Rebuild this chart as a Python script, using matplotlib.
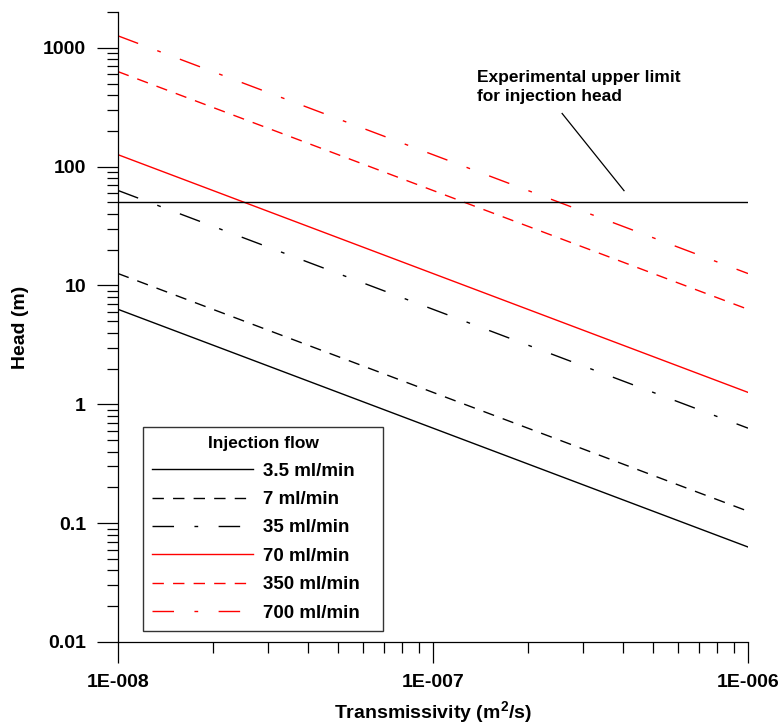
import matplotlib
matplotlib.use("Agg")
import matplotlib.pyplot as plt
from matplotlib.ticker import FixedLocator, LogLocator, FixedFormatter, NullFormatter

plt.rcParams['font.family'] = ['Liberation Sans', 'DejaVu Sans']
plt.rcParams['font.weight'] = 'bold'
plt.rcParams['mathtext.fontset'] = 'custom'
plt.rcParams['mathtext.rm'] = 'Liberation Sans:bold'
plt.rcParams['mathtext.bf'] = 'Liberation Sans:bold'
plt.rcParams['lines.scale_dashes'] = False

# transmissivity range (m2/s)
transmissivity = [1e-8, 1e-6]

# injection flows and head at each end of the transmissivity range
flow_labels = ['3.5 ml/min', '7 ml/min', '35 ml/min', '70 ml/min', '350 ml/min', '700 ml/min']
head_low_T = [6.3, 12.6, 63, 126, 630, 1260]
head_high_T = [0.063, 0.126, 0.63, 1.26, 6.3, 12.6]
colors = ['black', 'black', 'black', 'red', 'red', 'red']
styles = ['solid', 'dashed', 'dashdot', 'solid', 'dashed', 'dashdot']

head_limit = 50

x_ticks = [1e-8, 1e-7, 1e-6]
x_ticklabels = ['1E-008', '1E-007', '1E-006']
y_ticks = [0.01, 0.1, 1, 10, 100, 1000]
y_ticklabels = ['0.01', '0.1', '1', '10', '100', '1000']

dash_map = {'solid': '-', 'dashed': (0, (8.2, 6.6)), 'dashdot': (0, (15.5, 14.7, 2.7, 14.7))}

fig = plt.figure(figsize=(7.82, 7.25), dpi=100)
ax = fig.add_axes([118/782, 1 - 642/725, 630/782, 630/725])

for lab, h0, h1, c, s in zip(flow_labels, head_low_T, head_high_T, colors, styles):
    ax.plot(transmissivity, [h0, h1], color=c, linestyle=dash_map[s], lw=1.0, label=lab)

ax.plot(transmissivity, [head_limit, head_limit], color='black', lw=1.0)

# leader line + note for the limit
ax.plot([2.57e-7, 4.04e-7], [280, 62.8], color='black', lw=0.9)
ax.text(1.38e-7, 650, 'Experimental upper limit\nfor injection head', fontsize=12.5,
        fontweight='bold', va='top', ha='left', linespacing=1.37)

ax.set_xscale('log')
ax.set_yscale('log')
ax.set_xlim(1e-8, 1e-6)
ax.set_ylim(0.01, 2000)

ax.xaxis.set_major_locator(FixedLocator(x_ticks))
ax.xaxis.set_major_formatter(FixedFormatter(x_ticklabels))
ax.yaxis.set_major_locator(FixedLocator(y_ticks))
ax.yaxis.set_major_formatter(FixedFormatter(y_ticklabels))
ax.xaxis.set_minor_locator(LogLocator(base=10, subs=range(2, 10)))
ax.yaxis.set_minor_locator(LogLocator(base=10, subs=range(2, 10)))
ax.xaxis.set_minor_formatter(NullFormatter())
ax.yaxis.set_minor_formatter(NullFormatter())

ax.tick_params(which='major', direction='out', length=15, width=0.9, labelsize=14, pad=8)
ax.tick_params(which='minor', direction='out', length=8, width=0.9)
for lbl in ax.get_xticklabels() + ax.get_yticklabels():
    lbl.set_fontweight('bold')

ax.spines['top'].set_visible(False)
ax.spines['right'].set_visible(False)
ax.spines['left'].set_linewidth(0.9)
ax.spines['bottom'].set_linewidth(0.9)

ax.set_xlabel(r'Transmissivity (m$^{\mathbf{2}}$/s)', fontsize=14, fontweight='bold', labelpad=6)
ax.set_ylabel('Head (m)', fontsize=14, fontweight='bold', labelpad=10)

leg = ax.legend(loc='upper left', bbox_to_anchor=(143/782, 1 - 625/725, 240/782, 198/725),
                bbox_transform=fig.transFigure, mode='expand', title='Injection flow',
                fontsize=13.5, title_fontsize=12.5, frameon=True, fancybox=False,
                edgecolor='black', handlelength=5.35, handletextpad=0.55,
                labelspacing=0.6, borderpad=0.5, borderaxespad=0)
leg.get_frame().set_linewidth(1.0)
leg.get_title().set_fontweight('bold')
for t in leg.get_texts():
    t.set_fontweight('bold')

fig.savefig('out.png', dpi=100)
